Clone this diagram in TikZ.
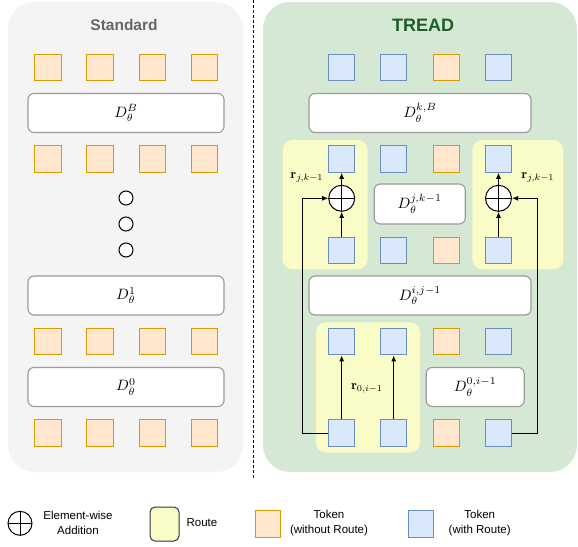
\documentclass[tikz,border=0pt]{standalone}
\usepackage{graphicx}
\usepackage{fontspec}
\setsansfont{Liberation Sans}
\usetikzlibrary{arrows.meta}
\definecolor{tokfill}{HTML}{FFE6CC}
\definecolor{tokline}{HTML}{D79B00}
\definecolor{rtokfill}{HTML}{DAE8FC}
\definecolor{rtokline}{HTML}{6C8EBF}
\definecolor{routefill}{HTML}{FAFCC8}
\definecolor{treadbg}{HTML}{D5E8D4}
\definecolor{stdbg}{HTML}{F4F4F4}
\definecolor{blkline}{HTML}{9A9A9A}
\definecolor{treadtxt}{HTML}{1E5E2B}
\newcommand{\blkmath}[1]{\scalebox{1.5}{$#1$}}
\newcommand{\rmath}[1]{\scalebox{1.3}{$#1$}}
\begin{document}
\begin{tikzpicture}[x=1pt,y=-1pt,
	tok/.style={draw=tokline,fill=tokfill,line width=1pt,minimum size=26.5pt,inner sep=0pt},
	rtok/.style={draw=rtokline,fill=rtokfill,line width=1pt,minimum size=26.5pt,inner sep=0pt},
	blk/.style={draw=blkline,fill=white,line width=1.1pt,rounded corners=6pt,minimum height=39pt,inner sep=0pt},
	addop/.style={circle,draw,line width=1pt,minimum size=26pt,inner sep=0pt,
		path picture={\draw[line width=1pt] (path picture bounding box.north) -- (path picture bounding box.south)
			(path picture bounding box.west) -- (path picture bounding box.east);}},
	route/.style={fill=routefill,rounded corners=10pt},
	arr/.style={-{Latex[length=6pt,width=5pt]},line width=1pt},
	lbl/.style={font=\sffamily\fontsize{11.5}{15}\selectfont,align=center}]
	\useasboundingbox (0,0) rectangle (578,546);
	% panels
	\fill[stdbg,rounded corners=27pt] (8,2) rectangle (243,472);
	\fill[treadbg,rounded corners=27pt] (263,2) rectangle (577,472);
	\draw[line width=1pt,dash pattern=on 3pt off 2pt] (253.5,0) -- (253.5,478);
	\node[font=\sffamily\bfseries\fontsize{15.5}{18}\selectfont,text=black!60] (stdtitle) at (124,25) {Standard};
	\node[font=\sffamily\bfseries\fontsize{18}{20}\selectfont,text=treadtxt] (treadtitle) at (423,25) {TREAD};
	% routes
	\fill[route] (282.7,140) rectangle (367.7,269.3);
	\fill[route] (472.3,140) rectangle (563.3,269.3);
	\fill[route] (316,322.3) rectangle (420,452.7);
	% standard
	\foreach \r/\y in {1/67.7,2/159,3/341.7,4/433}
		\foreach \c/\x in {a/47.8,b/100.2,c/152.5,d/204.7}
			\node[tok] (s\r\c) at (\x,\y) {};
	\node[blk,minimum width=196pt] (dB) at (126,113) {\blkmath{D_\theta^B}};
	\node[blk,minimum width=196pt] (d1) at (126,295.5) {\blkmath{D_\theta^1}};
	\node[blk,minimum width=196pt] (d0) at (126,387) {\blkmath{D_\theta^0}};
	\foreach \y/\n in {198/1,224/2,250/3}
		\node[circle,draw,fill=white,line width=1pt,minimum size=14pt,inner sep=0pt] (dot\n) at (126,\y) {};
	% tread
	\foreach \r/\y in {1/67.7,2/159,3/250.7,4/341.7,5/433}
		\foreach \c/\x/\s in {a/341.7/rtok,b/393.7/rtok,c/446.3/tok,d/498.5/rtok}
			\node[\s] (t\r\c) at (\x,\y) {};
	\node[blk,minimum width=222pt] (dkB) at (420,113) {\blkmath{D_\theta^{k,B}}};
	\node[blk,minimum width=91pt,minimum height=40pt] (djk) at (419.7,204) {\blkmath{D_\theta^{j,k-1}}};
	\node[blk,minimum width=222pt] (dij) at (420,295.5) {\blkmath{D_\theta^{i,j-1}}};
	\node[blk,minimum width=98pt] (d0i) at (475.2,387) {\blkmath{D_\theta^{0,i-1}}};
	\node[addop,fill=white] (oL) at (341.7,198.3) {};
	\node[addop,fill=white] (oR) at (498.5,198.3) {};
	\coordinate (cL) at (302.7,198.3);
	\coordinate (cR) at (537.3,198.3);
	\draw[arr] (t3a) -- (oL);
	\draw[arr] (oL) -- (t2a);
	\draw[arr] (t3d) -- (oR);
	\draw[arr] (oR) -- (t2d);
	\draw[arr] (t5a.west) -| (cL) -- (oL);
	\draw[arr] (t5d.east) -| (cR) -- (oR);
	\draw[arr] (t5a) -- (t4a);
	\draw[arr] (t5b) -- (t4b);
	\node (rL) at (307,177) {\rmath{\mathbf{r}_{j,k-1}}};
	\node (rR) at (538,177) {\rmath{\mathbf{r}_{j,k-1}}};
	\node (r0) at (367,388) {\rmath{\mathbf{r}_{0,i-1}}};
	% legend
	\node[circle,draw,line width=1pt,minimum size=24pt,inner sep=0pt,
		path picture={\draw[line width=1pt] (path picture bounding box.north) -- (path picture bounding box.south)
			(path picture bounding box.west) -- (path picture bounding box.east);}] (lgadd) at (20,523.3) {};
	\node[lbl] (lgaddtxt) at (78,523) {Element-wise\\Addition};
	\draw[fill=routefill,draw=black!80,line width=1pt,rounded corners=5pt] (150,507) rectangle (179,541);
	\node[lbl] (lgroutetxt) at (202,523) {Route};
	\node[tok,minimum width=24.5pt,minimum height=26.5pt] (lgtok) at (268,524) {};
	\node[lbl] (lgtoktxt) at (329,523) {Token\\(without Route)};
	\node[rtok,minimum width=24.5pt,minimum height=26.5pt] (lgrtok) at (421,524) {};
	\node[lbl] (lgrtoktxt) at (479.7,523) {Token\\(with Route)};
\end{tikzpicture}
\end{document}
